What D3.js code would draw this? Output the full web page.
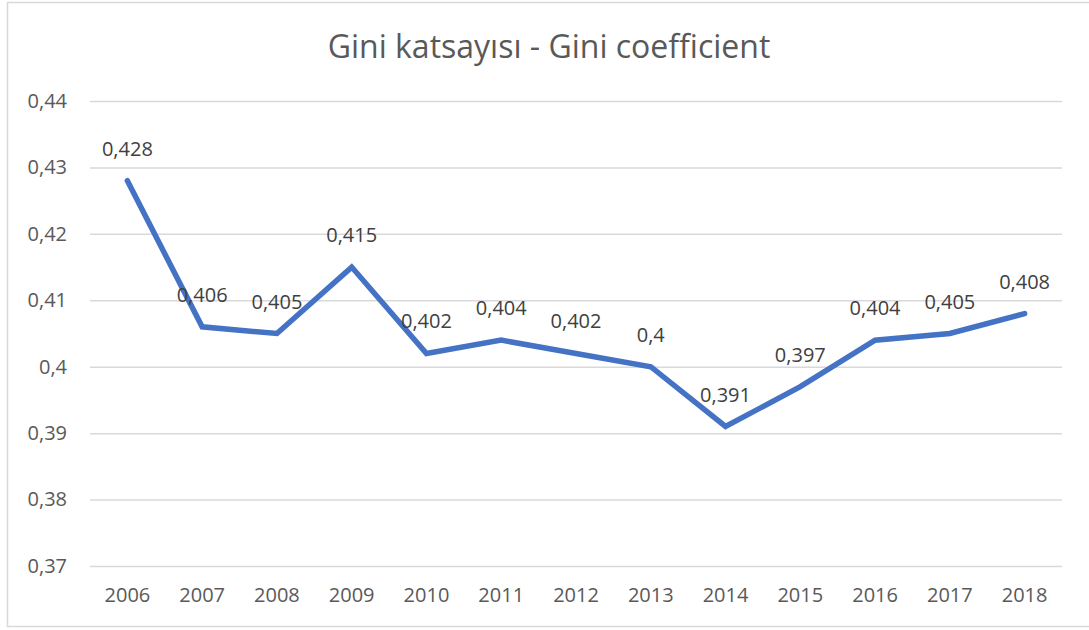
<!DOCTYPE html>
<html>
<head>
<meta charset="utf-8">
<script src="https://cdn.jsdelivr.net/npm/d3@7"></script>
<style>
  body { margin: 0; background: #fff; }
  text { font-family: "Open Sans", sans-serif; }
</style>
</head>
<body>
<div id="chart"></div>
<script>
const years = ['2006', '2007', '2008', '2009', '2010', '2011', '2012', '2013', '2014', '2015', '2016', '2017', '2018'];
const gini = [0.428, 0.406, 0.405, 0.415, 0.402, 0.404, 0.402, 0.4, 0.391, 0.397, 0.404, 0.405, 0.408];
const y_ticks = [0.37, 0.38, 0.39, 0.4, 0.41, 0.42, 0.43, 0.44];
const title = 'Gini katsayısı - Gini coefficient';

const width = 1089;
const height = 630;
const plot = { left: 90, right: 1062, top: 101, bottom: 566 };

const comma = v => String(v).replace('.', ',');

const x_scale = d3.scaleBand()
  .domain(years)
  .range([plot.left, plot.right]);
const y_scale = d3.scaleLinear()
  .domain([0.37, 0.44])
  .range([plot.bottom, plot.top]);

const svg = d3.select('#chart')
  .append('svg')
    .attr('width', width)
    .attr('height', height);

svg.append('rect')
  .attr('x', 7.5)
  .attr('y', 2.5)
  .attr('width', width + 10)
  .attr('height', 624)
  .attr('fill', '#fff')
  .attr('stroke', '#d9d9d9')
  .attr('stroke-width', 1.5);

svg.append('text')
  .attr('x', 549)
  .attr('y', 58)
  .attr('text-anchor', 'middle')
  .attr('font-size', 32)
  .attr('fill', '#595959')
  .text(title);

// y axis + gridlines
const y_axis = svg.append('g')
  .attr('transform', 'translate(' + plot.left + ',0)')
  .call(d3.axisLeft(y_scale)
    .tickValues(y_ticks)
    .tickFormat(comma)
    .tickSize(-(plot.right - plot.left))
    .tickPadding(23));
y_axis.select('.domain').remove();
y_axis.selectAll('line').attr('stroke', '#d9d9d9').attr('stroke-width', 1.5);
y_axis.selectAll('text').attr('font-size', 20).attr('fill', '#595959');

// x axis
const x_axis = svg.append('g')
  .attr('transform', 'translate(0,' + plot.bottom + ')')
  .call(d3.axisBottom(x_scale).tickSize(0).tickPadding(22));
x_axis.select('.domain').remove();
x_axis.selectAll('text').attr('font-size', 20).attr('fill', '#595959');

const points = years.map((y, i) => ({ year: y, value: gini[i] }));
const cx = d => x_scale(d.year) + x_scale.bandwidth() / 2;

svg.append('path')
  .datum(points)
  .attr('fill', 'none')
  .attr('stroke', '#4472c4')
  .attr('stroke-width', 5.5)
  .attr('stroke-linejoin', 'miter')
  .attr('stroke-linecap', 'round')
  .attr('d', d3.line().x(cx).y(d => y_scale(d.value)));

svg.selectAll('.label')
    .data(points)
  .join('text')
    .attr('class', 'label')
    .attr('x', cx)
    .attr('y', d => y_scale(d.value) - 25)
    .attr('text-anchor', 'middle')
    .attr('font-size', 20)
    .attr('fill', '#404040')
    .text(d => comma(d.value));
</script>
</body>
</html>
